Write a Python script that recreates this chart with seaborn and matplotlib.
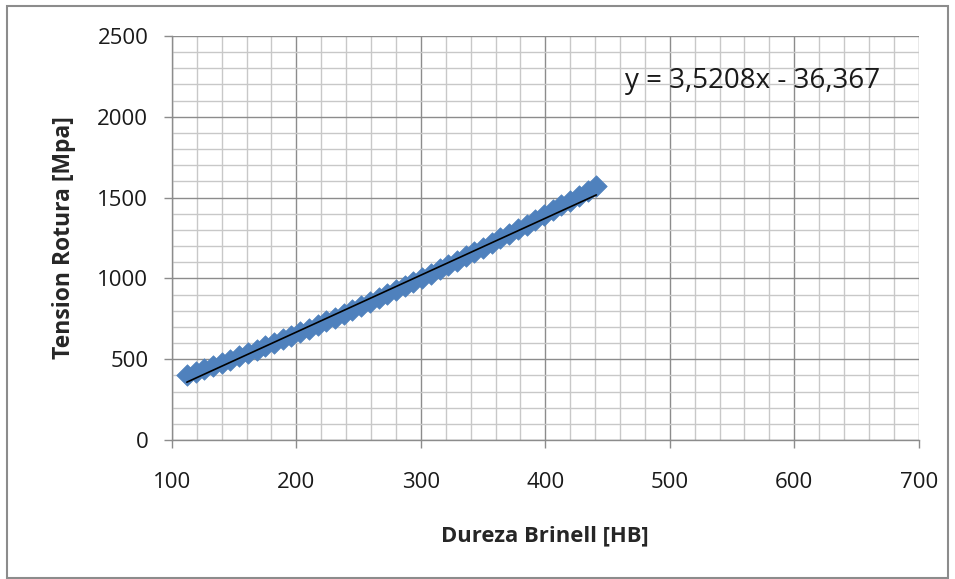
import matplotlib
matplotlib.use("Agg")
import matplotlib.pyplot as plt
import seaborn as sns
import pandas as pd
import numpy as np
from matplotlib.ticker import MultipleLocator
from matplotlib.patches import Rectangle

# Data
hb = [112, 119, 126, 133, 140, 147, 154, 161, 168, 175, 182, 189, 196, 203,
      210, 217, 224, 231, 238, 245, 252, 259, 266, 273, 280, 287, 294, 301,
      308, 315, 322, 329, 336, 343, 350, 357, 364, 371, 378, 385, 392, 399,
      406, 413, 420, 427, 434, 441]
tension = [400, 419, 438, 458, 477, 497, 518, 538, 559, 580, 601, 623, 645, 667,
           689, 712, 735, 758, 781, 805, 829, 853, 878, 902, 927, 953, 978, 1004,
           1030, 1056, 1083, 1109, 1136, 1164, 1191, 1219, 1247, 1276, 1304, 1333,
           1362, 1392, 1421, 1451, 1481, 1512, 1543, 1574]
slope = 3.5208
intercept = -36.367
equation_label = "y = 3,5208x - 36,367"
x_label = "Dureza Brinell [HB]"
y_label = "Tension Rotura [Mpa]"

sns.set_theme(style="white")
plt.rcParams['font.family'] = ['Open Sans', 'DejaVu Sans']

df = pd.DataFrame({"HB": hb, "MPa": tension})
xs = np.array([min(hb), max(hb)], dtype=float)
fit = pd.DataFrame({"HB": xs, "MPa": slope * xs + intercept})

fig = plt.figure(figsize=(9.55, 5.79), dpi=100)
ax = fig.add_axes([0.180, 0.240, 0.782, 0.698])

sns.scatterplot(data=df, x="HB", y="MPa", ax=ax, marker="D", s=120,
                color="#4F81BD", edgecolor="#4F81BD", linewidth=0.5, zorder=3)
sns.lineplot(data=fit, x="HB", y="MPa", ax=ax, color="black", linewidth=1.2, zorder=4)

ax.set_xlim(100, 700)
ax.set_ylim(0, 2500)
ax.xaxis.set_major_locator(MultipleLocator(100))
ax.xaxis.set_minor_locator(MultipleLocator(20))
ax.yaxis.set_major_locator(MultipleLocator(500))
ax.yaxis.set_minor_locator(MultipleLocator(100))
ax.grid(which="major", color="#8c8c8c", linewidth=1.0, zorder=0)
ax.grid(which="minor", color="#c8c8c8", linewidth=1.0, zorder=0)
ax.set_axisbelow(True)

for side in ["top", "right"]:
    ax.spines[side].set_visible(False)
for side in ["left", "bottom"]:
    ax.spines[side].set_color("#8c8c8c")
    ax.spines[side].set_linewidth(1.0)

ax.tick_params(which="major", direction="out", length=6, width=1.0, color="#8c8c8c",
               labelsize=16, labelcolor="#1a1a1a", bottom=True, left=True)
ax.tick_params(which="minor", length=0)
ax.tick_params(axis="x", pad=17)
ax.tick_params(axis="y", pad=11)

ax.set_xlabel(x_label, fontsize=15.8, fontweight="bold", labelpad=23)
ax.set_ylabel(y_label, fontsize=16.5, fontweight="bold", labelpad=15)

ax.text((625 - 172) / 747, (440 - 81) / 404, equation_label, transform=ax.transAxes,
        fontsize=20, color="#1a1a1a", ha="left", va="center")

fig.patches.append(Rectangle((7 / 955, 0.002), 941 / 955, 1 - 6 / 579 - 0.002,
                             transform=fig.transFigure, fill=False,
                             edgecolor="#8c8c8c", linewidth=1.5))

fig.savefig("out.png", dpi=100)
